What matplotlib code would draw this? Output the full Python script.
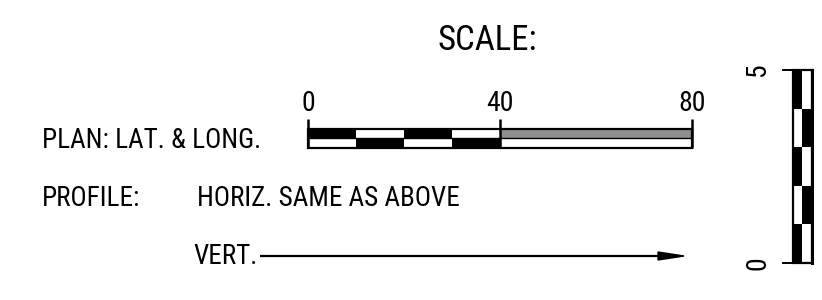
import numpy as np
import matplotlib
matplotlib.use("Agg")
from matplotlib import pyplot as plt
from matplotlib.patches import Rectangle, Polygon

# scale bar data
plan_ticks = [0, 40, 80]          # horizontal scale labels
plan_step = 10                    # alternating block length
vert_ticks = [0, 5]               # vertical scale labels
vert_step = 1

title = "SCALE:"
row_labels = ["PLAN: LAT. & LONG.", "PROFILE:"]
profile_labels = ["HORIZ. SAME AS ABOVE", "VERT."]

font = ['Roboto Condensed', 'DejaVu Sans']

W, H = 822, 300
fig = plt.figure(figsize=(W / 100, H / 100), dpi=100)

# main axes in pixel units for the text
ax = fig.add_axes([0, 0, 1, 1])
ax.set_xlim(0, W)
ax.set_ylim(H, 0)
ax.axis('off')


def px_axes(x0, y0, x1, y1):
    # axes placed by pixel box (top-left origin)
    return fig.add_axes([x0 / W, (H - y1) / H, (x1 - x0) / W, (y1 - y0) / H])


ax.text(437, 40, title, fontsize=25, family=font, ha='left', va='center')
ax.text(42, 140, row_labels[0], fontsize=19.5, family=font, ha='left', va='center')
ax.text(42, 198, row_labels[1], fontsize=19.5, family=font, ha='left', va='center')
ax.text(197, 198, profile_labels[0], fontsize=19.5, family=font, ha='left', va='center')
ax.text(193, 256, profile_labels[1], fontsize=19.5, family=font, ha='left', va='center')

# arrow to the vertical scale
ax.plot([260, 664], [256, 256], color='black', lw=1.6, solid_capstyle='butt')
ax.add_patch(Polygon([[658, 252], [684, 256], [658, 260]], closed=True,
                     facecolor='black', edgecolor='black'))

# ---- horizontal scale bar ----
hx = px_axes(308, 119, 692, 148)
hx.set_xlim(plan_ticks[0], plan_ticks[-1])
hx.set_ylim(0, 3)
hx.axis('off')
half = plan_ticks[1]
starts = np.arange(plan_ticks[0], half, plan_step)
for i, s in enumerate(starts):
    top = 'black' if i % 2 == 0 else 'white'
    bot = 'white' if i % 2 == 0 else 'black'
    hx.add_patch(Rectangle((s, 1), plan_step, 1, facecolor=top, edgecolor='none'))
    hx.add_patch(Rectangle((s, 0), plan_step, 1, facecolor=bot, edgecolor='none'))
hx.add_patch(Rectangle((half, 1), plan_ticks[-1] - half, 1, facecolor='#8f8f8f', edgecolor='none'))
hx.add_patch(Rectangle((half, 0), plan_ticks[-1] - half, 1, facecolor='white', edgecolor='none'))
hx.add_patch(Rectangle((plan_ticks[0], 0), plan_ticks[-1] - plan_ticks[0], 2,
                       facecolor='none', edgecolor='black', lw=1.6, clip_on=False))
hx.plot([plan_ticks[0], plan_ticks[-1]], [1, 1], color='black', lw=1.0)
for t in plan_ticks:
    hx.plot([t, t], [0, 3], color='black', lw=1.8, clip_on=False, solid_capstyle='butt')
    hx.text(t, 4.6, str(t), fontsize=20, family=font, ha='center', va='center', clip_on=False)

# ---- vertical scale bar ----
vx = px_axes(783, 70, 812, 263)
vx.set_xlim(-1, 2)
vx.set_ylim(vert_ticks[0], vert_ticks[-1])
vx.axis('off')
for i, s in enumerate(np.arange(vert_ticks[0], vert_ticks[-1], vert_step)):
    left = 'black' if i % 2 == 0 else 'white'
    right = 'white' if i % 2 == 0 else 'black'
    vx.add_patch(Rectangle((0, s), 1, vert_step, facecolor=left, edgecolor='none'))
    vx.add_patch(Rectangle((1, s), 1, vert_step, facecolor=right, edgecolor='none'))
vx.add_patch(Rectangle((0, vert_ticks[0]), 2, vert_ticks[-1] - vert_ticks[0],
                       facecolor='none', edgecolor='black', lw=1.6, clip_on=False))
vx.plot([2, 2], [vert_ticks[0], vert_ticks[-1]], color='black', lw=2.2, clip_on=False)
for t in vert_ticks:
    vx.plot([-1, 0], [t, t], color='black', lw=1.4, clip_on=False)
    vx.text(-3.6, t, str(t), fontsize=20, family=font, rotation=90,
            ha='center', va='center', clip_on=False)

fig.savefig('out.png', dpi=100)
